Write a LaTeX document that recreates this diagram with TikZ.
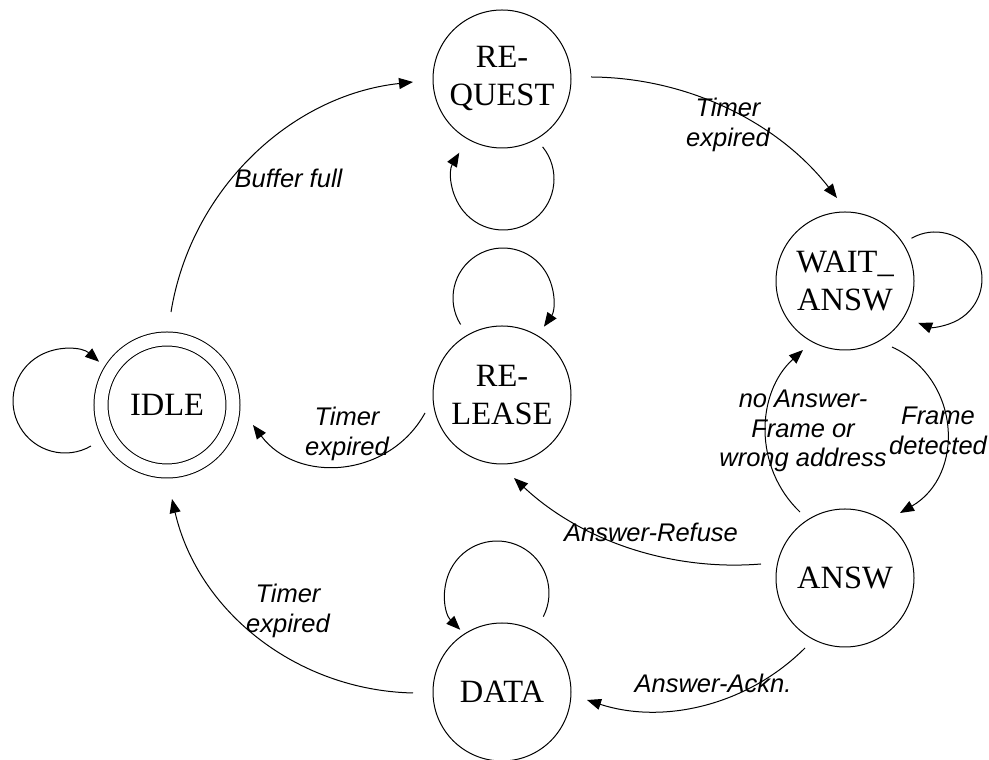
\documentclass[tikz,border=0pt]{standalone}
\usepackage{fontspec}
\setmainfont{Liberation Serif}
\setsansfont{Liberation Sans}
\usetikzlibrary{arrows.meta,calc}

\begin{document}
\begin{tikzpicture}[x=1pt,y=1pt,
  state/.style={circle, draw, line width=1pt, minimum size=138pt, inner sep=0pt,
                align=center, font=\fontsize{32.5}{38}\selectfont},
  accept/.style={state, minimum size=132pt, double, double distance=13pt},
  conn/.style={line width=1pt, -{Triangle[length=14pt,width=11pt]}},
  lbl/.style={font=\sffamily\itshape\fontsize{25.5}{29.5}\selectfont,
              align=center, inner sep=0pt, anchor=base}
]
\useasboundingbox (0,0) rectangle (989,760);

% states
\node[state]  (req)  at (502,681) {RE-\\QUEST};
\node[state]  (wait) at (845,479) {WAIT\_\\ANSW};
\node[accept] (idle) at (167,355) {IDLE};
\node[state]  (rel)  at (502,365) {RE-\\LEASE};
\node[state]  (answ) at (845,182) {ANSW};
\node[state]  (data) at (502,68)  {DATA};

% transitions between states
\draw[conn] ($(idle)+(4,93)$)    to[out=80.8,in=186.2,looseness=0.948] ($(req)+(-89,-3)$);
\draw[conn] ($(req)+(89,2)$)     to[out=-0.3,in=127.9,looseness=0.897] ($(wait)+(-8,83)$);
\draw[conn] ($(wait)+(47,-66)$)  to[out=-24.6,in=30.1,looseness=1.166] ($(answ)+(55,65)$);
\draw[conn] ($(answ)+(-45,66)$)  to[out=136.4,in=222.4,looseness=1.012] ($(wait)+(-42,-69)$);
\draw[conn] ($(answ)+(-84,14)$)  to[out=184.7,in=-43.1,looseness=0.890] ($(rel)+(12,-83)$);
\draw[conn] ($(rel)+(-77,-18)$)  to[out=-118.9,in=-53.1,looseness=1.103] ($(idle)+(86,-20)$);
\draw[conn] ($(answ)+(-40,-70)$) to[out=-135,in=-18.1,looseness=0.92] ($(data)+(85,-8)$);
\draw[conn] ($(data)+(-89,-1)$)  to[out=178.7,in=283,looseness=0.96] ($(idle)+(5,-94)$);

% self loops
\draw[conn] ($(req)+(1,-100)+(39:51)$)  arc[start angle=39,end angle=-211,radius=51];
\draw[conn] ($(wait)+(90,2)+(120:47)$)  arc[start angle=120,end angle=-111,radius=47];
\draw[conn] ($(rel)+(1,97)+(212:50)$)   arc[start angle=212,end angle=-35,radius=50];
\draw[conn] ($(data)+(-5,99)+(-27:52)$) arc[start angle=-27,end angle=225,radius=52];
\draw[conn] ($(idle)+(-102,4)+(-60:52)$) arc[start angle=-60,end angle=-311,radius=52];

% transition labels (base anchor sits on the last line)
\node[lbl] (lbuf)  at (288.5,572) {Buffer full};
\node[lbl] (ltim1) at (728,613.5) {Timer\\expired};
\node[lbl] (ltim2) at (347,304.5) {Timer\\expired};
\node[lbl] (ltim3) at (288,127.5) {Timer\\expired};
\node[lbl] (lref)  at (651,218)   {Answer-Refuse};
\node[lbl] (lack)  at (713,67)    {Answer-Ackn.};
\node[lbl] (lnoa)  at (803,293)   {no Answer-\\Frame or\\wrong address};
\node[lbl] (lfrm)  at (938,305.5) {Frame\\detected};
\end{tikzpicture}
\end{document}
